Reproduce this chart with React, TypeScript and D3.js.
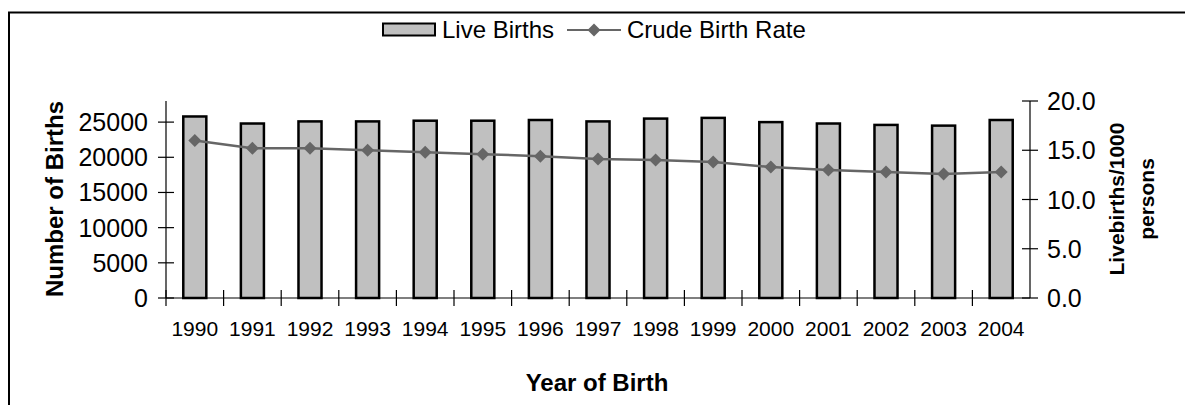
import React from "react";
import * as d3 from "d3";

const years = ["1990", "1991", "1992", "1993", "1994", "1995", "1996", "1997", "1998", "1999", "2000", "2001", "2002", "2003", "2004"];
const liveBirths = [25800, 24800, 25100, 25100, 25200, 25200, 25300, 25100, 25500, 25600, 25000, 24800, 24600, 24500, 25300];
const crudeRate = [16.0, 15.2, 15.2, 15.0, 14.8, 14.6, 14.4, 14.1, 14.0, 13.8, 13.3, 13.0, 12.8, 12.6, 12.8];
const leftTicks = [0, 5000, 10000, 15000, 20000, 25000];
const rightTicks = [0, 5, 10, 15, 20];

const W = 1185;
const H = 405;
const font = "'Liberation Sans', Arial, sans-serif";

export default function App() {
  const x = d3.scaleBand().domain(years).range([166, 1030]).paddingInner(0.6).paddingOuter(0.3);
  const yL = d3.scaleLinear().domain([0, 28000]).range([298, 101]);
  const yR = d3.scaleLinear().domain([0, 20]).range([298, 101]);
  const step = x.step();

  const line = d3
    .line<number>()
    .x((d, i) => x(years[i])! + x.bandwidth() / 2)
    .y((d) => yR(d));

  const diamond = (cx: number, cy: number, r: number) =>
    `M${cx},${cy - r}L${cx + r},${cy}L${cx},${cy + r}L${cx - r},${cy}Z`;

  return (
    <svg width={W} height={H} style={{ position: "absolute", left: 0, top: 0, background: "#fff" }} fontFamily={font}>
      {/* frame */}
      <path d={`M9,${H}V12.5H${W}`} fill="none" stroke="#000" strokeWidth={2} />

      {/* legend */}
      <rect x={383} y={23.5} width={52} height={12} fill="#c0c0c0" stroke="#000" strokeWidth={2} />
      <text x={442} y={38} fontSize={24}>Live Births</text>
      <line x1={567} x2={621} y1={30} y2={30} stroke="#666" strokeWidth={2} />
      <path d={diamond(594, 30, 6.5)} fill="#666" />
      <text x={627} y={38} fontSize={24}>Crude Birth Rate</text>

      {/* bars */}
      {liveBirths.map((v, i) => (
        <rect
          key={years[i]}
          x={x(years[i])}
          y={yL(v)}
          width={x.bandwidth()}
          height={yL(0) - yL(v)}
          fill="#c0c0c0"
          stroke="#000"
          strokeWidth={2.5}
        />
      ))}

      {/* left axis */}
      <line x1={166} x2={166} y1={101} y2={298} stroke="#000" strokeWidth={1.2} />
      {leftTicks.map((t) => (
        <g key={t}>
          <line x1={158} x2={174} y1={yL(t)} y2={yL(t)} stroke="#000" strokeWidth={1.2} />
          <text x={148} y={yL(t)} dy="0.36em" textAnchor="end" fontSize={25}>{t}</text>
        </g>
      ))}

      {/* right axis */}
      <line x1={1030} x2={1030} y1={101} y2={298} stroke="#000" strokeWidth={1.2} />
      {rightTicks.map((t) => (
        <g key={t}>
          <line x1={1022} x2={1038} y1={yR(t)} y2={yR(t)} stroke="#000" strokeWidth={1.2} />
          <text x={1047} y={yR(t)} dy="0.36em" fontSize={25}>{t.toFixed(1)}</text>
        </g>
      ))}

      {/* x axis */}
      <line x1={166} x2={1030} y1={298} y2={298} stroke="#000" strokeWidth={1.2} />
      {years.map((yv, i) => (
        <g key={yv}>
          <line x1={166 + i * step} x2={166 + i * step} y1={290} y2={306} stroke="#000" strokeWidth={1.2} />
          <text x={x(yv)! + x.bandwidth() / 2} y={336} textAnchor="middle" fontSize={21}>{yv}</text>
        </g>
      ))}

      {/* rate line */}
      <path d={line(crudeRate)!} fill="none" stroke="#666" strokeWidth={2.5} />
      {crudeRate.map((v, i) => (
        <path key={i} d={diamond(x(years[i])! + x.bandwidth() / 2, yR(v), 6.5)} fill="#666" />
      ))}

      {/* axis titles */}
      <text transform="translate(63,199) rotate(-90)" textAnchor="middle" fontSize={24} fontWeight="bold">
        Number of Births
      </text>
      <text transform="translate(1124,199) rotate(-90)" textAnchor="middle" fontSize={21} fontWeight="bold">
        Livebirths/1000
      </text>
      <text transform="translate(1154,199) rotate(-90)" textAnchor="middle" fontSize={21} fontWeight="bold">
        persons
      </text>
      <text x={597} y={391} textAnchor="middle" fontSize={24} fontWeight="bold">
        Year of Birth
      </text>
    </svg>
  );
}
